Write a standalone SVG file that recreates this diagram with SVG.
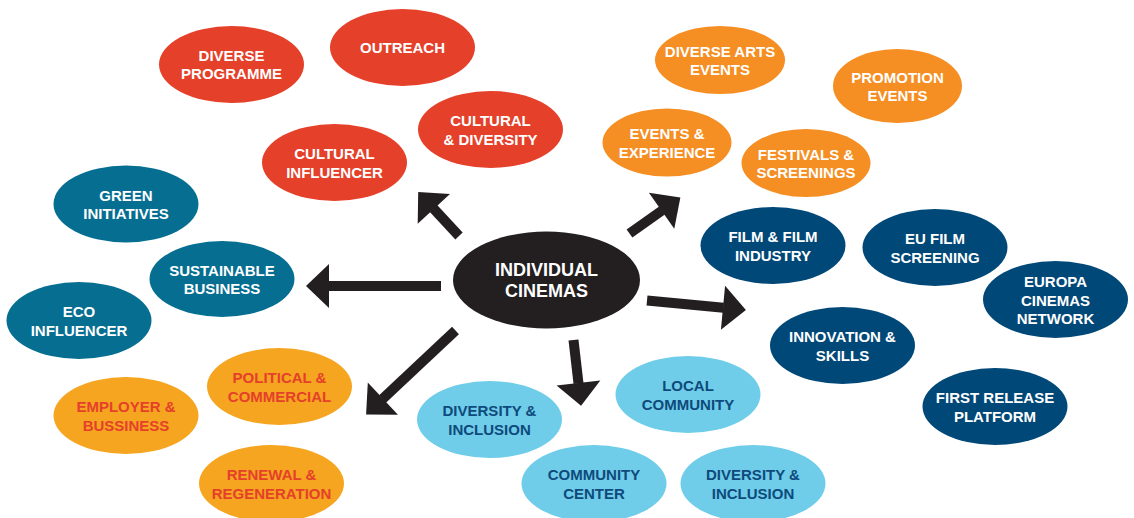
<svg xmlns="http://www.w3.org/2000/svg" width="1134" height="518" viewBox="0 0 1134 518">
  <style>
    text { font-family: "Liberation Sans", Arial, sans-serif; font-weight: bold; font-size: 15px; text-anchor: middle; }
    .red ellipse { fill: #E5402A; }
    .red text { fill: #FFFFFF; }
    .orange ellipse { fill: #F58E23; }
    .orange text { fill: #FFFFFF; }
    .teal ellipse { fill: #056E91; }
    .teal text { fill: #FFFFFF; }
    .amber ellipse { fill: #F6A520; }
    .amber text { fill: #E5402A; }
    .sky ellipse { fill: #6FCDEA; }
    .sky text { fill: #0E4A7B; }
    .navy ellipse { fill: #004878; }
    .navy text { fill: #FFFFFF; }
    .hub ellipse { fill: #231F20; }
    .hub text { fill: #FFFFFF; font-size: 18px; }
    .arrow { stroke: #231F20; stroke-width: 10; fill: none; marker-end: url(#head); }
  </style>
  <defs>
    <marker id="head" markerUnits="userSpaceOnUse" markerWidth="24" markerHeight="44" refX="0.5" refY="22" orient="auto" overflow="visible">
      <path d="M0,0 L23,22 L0,44 Z" fill="#231F20"/>
    </marker>
  </defs>
  <rect width="1134" height="518" fill="#FFFFFF"/>

  <!-- cultural cluster -->
  <g id="diverse-programme" class="red">
    <ellipse cx="231.5" cy="64.5" rx="72.5" ry="38.5"/>
    <text x="231.5" y="61">DIVERSE</text>
    <text x="231.5" y="79">PROGRAMME</text>
  </g>
  <g id="outreach" class="red">
    <ellipse cx="402.5" cy="47.5" rx="72.5" ry="38.5"/>
    <text x="402.5" y="53">OUTREACH</text>
  </g>
  <g id="cultural-diversity" class="red">
    <ellipse cx="490.5" cy="129.5" rx="72.5" ry="38.5"/>
    <text x="490.5" y="126">CULTURAL</text>
    <text x="490.5" y="144.5">&amp; DIVERSITY</text>
  </g>
  <g id="cultural-influencer" class="red">
    <ellipse cx="334.5" cy="162.5" rx="72.5" ry="38.5"/>
    <text x="334.5" y="159">CULTURAL</text>
    <text x="334.5" y="177.5">INFLUENCER</text>
  </g>

  <!-- events cluster -->
  <g id="diverse-arts-events" class="orange">
    <ellipse cx="720" cy="60" rx="65" ry="34"/>
    <text x="720" y="57">DIVERSE ARTS</text>
    <text x="720" y="75">EVENTS</text>
  </g>
  <g id="events-experience" class="orange">
    <ellipse cx="667" cy="142.5" rx="64.5" ry="34"/>
    <text x="667" y="139">EVENTS &amp;</text>
    <text x="667" y="157.5">EXPERIENCE</text>
  </g>
  <g id="festivals-screenings" class="orange">
    <ellipse cx="806" cy="163" rx="64.5" ry="34"/>
    <text x="806" y="159.5">FESTIVALS &amp;</text>
    <text x="806" y="178">SCREENINGS</text>
  </g>
  <g id="promotion-events" class="orange">
    <ellipse cx="897.5" cy="86" rx="64.5" ry="37"/>
    <text x="897.5" y="83">PROMOTION</text>
    <text x="897.5" y="101">EVENTS</text>
  </g>

  <!-- sustainability cluster -->
  <g id="green-initiatives" class="teal">
    <ellipse cx="126" cy="204" rx="72.5" ry="38.5"/>
    <text x="126" y="201">GREEN</text>
    <text x="126" y="219">INITIATIVES</text>
  </g>
  <g id="sustainable-business" class="teal">
    <ellipse cx="222" cy="279" rx="72.5" ry="38"/>
    <text x="222" y="276">SUSTAINABLE</text>
    <text x="222" y="293.5">BUSINESS</text>
  </g>
  <g id="eco-influencer" class="teal">
    <ellipse cx="79" cy="320.5" rx="72.5" ry="38.5"/>
    <text x="79" y="317">ECO</text>
    <text x="79" y="335.5">INFLUENCER</text>
  </g>

  <!-- political and commercial cluster -->
  <g id="political-commercial" class="amber">
    <ellipse cx="279.5" cy="386.5" rx="72.5" ry="38.5"/>
    <text x="279.5" y="383">POLITICAL &amp;</text>
    <text x="279.5" y="401.5">COMMERCIAL</text>
  </g>
  <g id="employer-bussiness" class="amber">
    <ellipse cx="126" cy="415.5" rx="72.5" ry="38.5"/>
    <text x="126" y="412">EMPLOYER &amp;</text>
    <text x="126" y="430.5">BUSSINESS</text>
  </g>
  <g id="renewal-regeneration" class="amber">
    <ellipse cx="271.5" cy="483.5" rx="72.5" ry="38.5"/>
    <text x="271.5" y="480">RENEWAL &amp;</text>
    <text x="271.5" y="498.5">REGENERATION</text>
  </g>

  <!-- community cluster -->
  <g id="diversity-inclusion-1" class="sky">
    <ellipse cx="489.5" cy="419.5" rx="72.5" ry="38.5"/>
    <text x="489.5" y="416">DIVERSITY &amp;</text>
    <text x="489.5" y="434.5">INCLUSION</text>
  </g>
  <g id="local-community" class="sky">
    <ellipse cx="688" cy="394.5" rx="72.5" ry="38.5"/>
    <text x="688" y="391">LOCAL</text>
    <text x="688" y="409.5">COMMUNITY</text>
  </g>
  <g id="community-center" class="sky">
    <ellipse cx="594" cy="483.5" rx="72.5" ry="38.5"/>
    <text x="594" y="480">COMMUNITY</text>
    <text x="594" y="498.5">CENTER</text>
  </g>
  <g id="diversity-inclusion-2" class="sky">
    <ellipse cx="753" cy="483.5" rx="72.5" ry="38.5"/>
    <text x="753" y="480">DIVERSITY &amp;</text>
    <text x="753" y="498.5">INCLUSION</text>
  </g>

  <!-- film industry cluster -->
  <g id="film-industry" class="navy">
    <ellipse cx="773" cy="245.5" rx="72.5" ry="38.5"/>
    <text x="773" y="242">FILM &amp; FILM</text>
    <text x="773" y="260.5">INDUSTRY</text>
  </g>
  <g id="eu-film-screening" class="navy">
    <ellipse cx="935" cy="247.5" rx="72.5" ry="38.5"/>
    <text x="935" y="244">EU FILM</text>
    <text x="935" y="262.5">SCREENING</text>
  </g>
  <g id="europa-cinemas-network" class="navy">
    <ellipse cx="1055.5" cy="299.5" rx="72.5" ry="38.5"/>
    <text x="1055.5" y="287">EUROPA</text>
    <text x="1055.5" y="305.5">CINEMAS</text>
    <text x="1055.5" y="324">NETWORK</text>
  </g>
  <g id="innovation-skills" class="navy">
    <ellipse cx="842.5" cy="345.5" rx="72.5" ry="38.5"/>
    <text x="842.5" y="342">INNOVATION &amp;</text>
    <text x="842.5" y="360.5">SKILLS</text>
  </g>
  <g id="first-release-platform" class="navy">
    <ellipse cx="995" cy="406.5" rx="72.5" ry="38.5"/>
    <text x="995" y="403">FIRST RELEASE</text>
    <text x="995" y="421.5">PLATFORM</text>
  </g>

  <!-- central node -->
  <g id="individual-cinemas" class="hub">
    <ellipse cx="546.5" cy="280" rx="93.5" ry="48.5"/>
    <text x="546.5" y="276">INDIVIDUAL</text>
    <text x="546.5" y="297">CINEMAS</text>
  </g>

  <!-- arrows from the central node -->
  <g id="connectors">
    <line class="arrow" x1="459" y1="236" x2="433.5" y2="208.5"/>
    <line class="arrow" x1="629.5" y1="233.5" x2="662" y2="210.5"/>
    <line class="arrow" x1="441" y1="286" x2="328.5" y2="286"/>
    <line class="arrow" x1="647" y1="300.5" x2="723.5" y2="307.8"/>
    <line class="arrow" x1="573.5" y1="340" x2="578.5" y2="383.5"/>
    <line class="arrow" x1="455.5" y1="330.5" x2="382.5" y2="399"/>
  </g>
</svg>
